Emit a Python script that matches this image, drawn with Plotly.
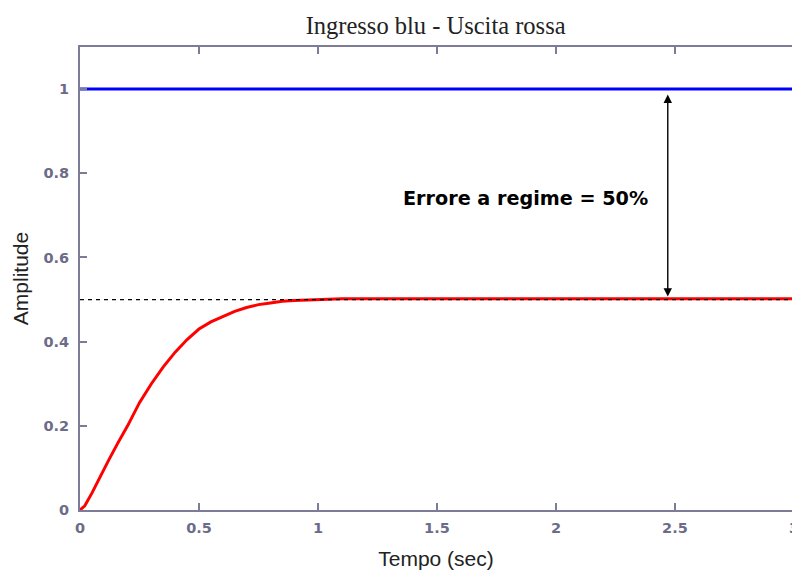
import plotly.graph_objects as go

# Step response samples (time in s, output amplitude)
t_out = [0, 0.02, 0.05, 0.08, 0.12, 0.16, 0.2, 0.25, 0.3, 0.35, 0.4, 0.45,
         0.5, 0.55, 0.6, 0.65, 0.7, 0.75, 0.8, 0.85, 0.9, 0.95, 1.0, 1.05,
         1.1, 3.0]
y_out = [0, 0.01, 0.04, 0.075, 0.118, 0.16, 0.2, 0.255, 0.3, 0.34, 0.375,
         0.405, 0.43, 0.447, 0.46, 0.472, 0.481, 0.488, 0.492, 0.496, 0.498,
         0.499, 0.5, 0.501, 0.502, 0.502]

# Unit step input
t_in = [0, 3.0]
y_in = [1, 1]

# Steady-state reference level
t_ss = [0, 3.0]
y_ss = [0.5, 0.5]

x_ticks = [0, 0.5, 1, 1.5, 2, 2.5, 3]
y_ticks = [0, 0.2, 0.4, 0.6, 0.8, 1]

error_x = 2.47
error_label = "Errore a regime = 50%"

axis_col = "#7c7c98"
tick_font = dict(family="DejaVu Sans", size=14.5, color="#6c6c88", weight="bold")

fig = go.Figure()
fig.add_trace(go.Scatter(x=t_in, y=y_in, mode="lines",
                         line=dict(color="#0000ff", width=3), showlegend=False))
fig.add_trace(go.Scatter(x=t_out, y=y_out, mode="lines",
                         line=dict(color="#ff0000", width=3), showlegend=False))
fig.add_trace(go.Scatter(x=t_ss, y=y_ss, mode="lines",
                         line=dict(color="black", width=1.2, dash="4px,4px"),
                         showlegend=False))

# Double-headed arrow marking the steady-state error
fig.add_annotation(x=error_x, y=y_ss[0], ax=error_x, ay=y_in[0],
                   xref="x", yref="y", axref="x", ayref="y",
                   text="", showarrow=True, arrowhead=2, startarrowhead=2,
                   arrowside="end+start", arrowwidth=1.4, arrowsize=1.2,
                   startarrowsize=1.2, arrowcolor="black",
                   standoff=3, startstandoff=4)
fig.add_annotation(x=1.87, y=0.741, xref="x", yref="y", text=error_label,
                   showarrow=False,
                   font=dict(family="DejaVu Sans", size=19.2, color="black",
                             weight="bold"))

# Partially visible last tick label at the cropped right edge
fig.add_annotation(x=1.0028, y=0, xref="paper", yref="paper", yshift=-18,
                   text="3", showarrow=False, xanchor="center",
                   yanchor="middle", font=tick_font)

fig.update_layout(
    width=792, height=572,
    margin=dict(l=80, r=0, t=47, b=62),
    paper_bgcolor="white", plot_bgcolor="white",
    title=dict(text="Ingresso blu - Uscita rossa", x=0.55, xanchor="center",
               y=1 - 25 / 572, yanchor="middle",
               font=dict(family="Liberation Serif", size=24.5, color="#222222")),
    xaxis=dict(range=[0, 2.992], tickvals=x_ticks,
               ticktext=[str(v) for v in x_ticks],
               showgrid=False, zeroline=False, showline=True,
               linecolor=axis_col, linewidth=2, mirror="ticks",
               ticks="inside", ticklen=7, tickwidth=1.5, tickcolor=axis_col,
               tickfont=tick_font, ticklabelstandoff=4,
               title=dict(text="Tempo (sec)", standoff=16,
                          font=dict(family="Liberation Sans", size=21,
                                    color="#222222"))),
    yaxis=dict(range=[0, 1.1], tickvals=y_ticks,
               ticktext=["0", "0.2", "0.4", "0.6", "0.8", "1"],
               showgrid=False, zeroline=False, showline=True,
               linecolor=axis_col, linewidth=2, mirror=False,
               ticks="inside", ticklen=7, tickwidth=1.5, tickcolor=axis_col,
               tickfont=tick_font, ticklabelstandoff=6,
               title=dict(text="Amplitude", standoff=9,
                          font=dict(family="Liberation Sans", size=21,
                                    color="#222222"))),
)

fig.write_html("out.html")
